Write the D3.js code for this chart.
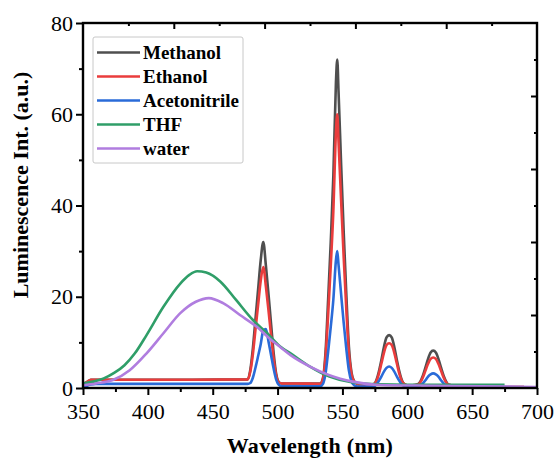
<!DOCTYPE html>
<html>
<head>
<meta charset="utf-8">
<script src="https://cdn.jsdelivr.net/npm/d3@7"></script>
<style>
  body { margin: 0; background: #fff; }
  svg text { font-family: "Liberation Serif", "Times New Roman", serif; fill: #000; }
</style>
</head>
<body>
<div id="container"></div>
<script>
// wavelength grid shared by the three sharp-line spectra (nm)
const waveSharp = [350, 353, 356, 360, 420,
  477, 479, 481, 483, 485, 487, 489, 491, 493, 495, 497, 499, 501, 503,
  515,
  533, 535, 537, 539, 541, 543, 545, 546, 547, 549, 551, 553, 555, 557, 559, 562,
  568,
  574, 576, 578, 580, 582, 584, 586, 588, 590, 592, 594, 596, 598, 600,
  604,
  608, 610, 612, 614, 616, 618, 620, 622, 624, 626, 628, 630, 632,
  640, 690];

const methanol = [0.9, 1.3, 1.8, 1.8, 1.8,
  1.9, 4.0, 8.8, 15.2, 21.6, 28, 32, 26.8, 20.6, 14, 7.6, 3.0, 1.3, 1.0,
  1.0,
  1.0, 2.2, 8, 19.5, 32, 46.5, 67, 72, 65, 49, 34, 20.5, 9, 3.4, 1.5, 0.8,
  0.6,
  0.8, 1.6, 3.5, 6.1, 9, 11.1, 11.6, 11.1, 9, 6.1, 3.5, 1.6, 0.8, 0.6,
  0.6,
  0.8, 1.4, 2.7, 4.5, 6.4, 7.8, 8.2, 7.8, 6.4, 4.5, 2.7, 1.4, 0.7,
  0.4, 0.2];

const ethanol = [0.9, 1.3, 1.8, 1.8, 1.8,
  1.9, 3.6, 7.5, 12.9, 18.2, 23.5, 26.5, 22.2, 17, 11.5, 6.3, 2.6, 1.2, 1.0,
  1.0,
  0.9, 2, 6.8, 16.2, 26.8, 38.8, 56, 60, 54, 41, 28.5, 17.2, 7.7, 3, 1.4, 0.8,
  0.6,
  0.8, 1.4, 3.0, 5.3, 7.7, 9.4, 9.8, 9.4, 7.7, 5.3, 3.0, 1.4, 0.8, 0.6,
  0.6,
  0.7, 1.2, 2.3, 3.8, 5.3, 6.4, 6.7, 6.4, 5.3, 3.8, 2.3, 1.2, 0.7,
  0.4, 0.2];

const acetonitrile = [0.1, 0.5, 0.8, 0.9, 0.9,
  0.9, 1.1, 2.3, 4.5, 7, 9.6, 12.6, 12.9, 10.2, 7.2, 4.2, 1.8, 0.7, 0.4,
  0.4,
  0.4, 0.9, 3.2, 8, 13.4, 19.4, 28, 30, 27, 20.5, 14.2, 8.6, 3.8, 1.4, 0.6, 0.3,
  0.3,
  0.4, 0.7, 1.5, 2.5, 3.6, 4.4, 4.7, 4.4, 3.6, 2.5, 1.5, 0.7, 0.4, 0.3,
  0.3,
  0.3, 0.5, 1.0, 1.7, 2.5, 3.0, 3.2, 3.0, 2.5, 1.7, 1.0, 0.5, 0.3,
  0.2, 0.1];

// broad-band spectra
const waveTHF = [350, 358, 366, 374, 382, 390, 399, 412, 425, 432, 438, 445, 456, 468, 481, 492, 502, 510, 525, 540, 558, 579, 600, 675];
const thf = [1.0, 1.4, 2.1, 3.3, 5.0, 7.6, 11.6, 17.8, 22.9, 24.8, 25.6, 25.3, 23.3, 19.3, 14.9, 12, 9.1, 7.6, 4.7, 2.5, 1.2, 0.8, 0.7, 0.7];

const waveWater = [350, 360, 373, 386, 399, 412, 425, 437, 447, 458, 471, 484, 494, 502, 510, 525, 540, 558, 579, 620, 680, 700];
const water = [0.6, 1.0, 1.75, 3.9, 7.6, 12, 16.4, 18.9, 19.7, 18.6, 16, 13.4, 10.8, 9.0, 7.2, 4.7, 2.8, 1.4, 0.66, 0.5, 0.3, 0.2];

const seriesNames = ["Methanol", "Ethanol", "Acetonitrile", "THF", "water"];
const seriesColors = ["#4f4f4f", "#ea3c3c", "#2a6bd8", "#2f9e68", "#b07ddf"];

const xTicks = [350, 400, 450, 500, 550, 600, 650, 700];
const xMinor = [375, 425, 475, 525, 575, 625, 675];
const yTicks = [0, 20, 40, 60, 80];
const yMinor = [10, 30, 50, 70];

const margin = { top: 23, right: 19, bottom: 71, left: 83 };
const width = 556 - margin.left - margin.right;
const height = 459 - margin.top - margin.bottom;

const svg = d3.select("#container")
  .append("svg")
  .attr("width", width + margin.left + margin.right)
  .attr("height", height + margin.top + margin.bottom);

const g = svg.append("g")
  .attr("transform", `translate(${margin.left},${margin.top})`);

const xScale = d3.scaleLinear().domain([350, 700]).range([0, width]);
const yScale = d3.scaleLinear().domain([0, 80]).range([height, 0]);

// the top/right frame carries its own evenly spaced ticks
const frameX = d3.scaleLinear().domain([0, 10]).range([0, width]);
const frameY = d3.scaleLinear().domain([0, 10]).range([0, height]);

const series = [
  { name: seriesNames[0], x: waveSharp, y: methanol },
  { name: seriesNames[1], x: waveSharp, y: ethanol },
  { name: seriesNames[2], x: waveSharp, y: acetonitrile },
  { name: seriesNames[3], x: waveTHF, y: thf },
  { name: seriesNames[4], x: waveWater, y: water }
];

const line = d3.line()
  .x(d => xScale(d[0]))
  .y(d => yScale(d[1]))
  .curve(d3.curveMonotoneX);

g.selectAll(".spectrum")
  .data(series)
  .enter()
  .append("path")
  .attr("class", "spectrum")
  .attr("fill", "none")
  .attr("stroke", (d, i) => seriesColors[i])
  .attr("stroke-width", 2.6)
  .attr("stroke-linejoin", "round")
  .attr("d", d => line(d.x.map((w, i) => [w, d.y[i]])));

// axes
function styleAxis(sel) {
  sel.select(".domain").remove();
  sel.selectAll(".tick line").attr("stroke", "#000").attr("stroke-width", 2);
}

g.append("g")
  .attr("transform", `translate(0,${height})`)
  .call(d3.axisBottom(xScale).tickValues(xMinor).tickSize(4).tickFormat(""))
  .call(styleAxis);

const xAxis = g.append("g")
  .attr("transform", `translate(0,${height})`)
  .call(d3.axisBottom(xScale).tickValues(xTicks).tickSize(7).tickPadding(8))
  .call(styleAxis);
xAxis.selectAll("text").attr("font-size", 22);

g.append("g")
  .call(d3.axisLeft(yScale).tickValues(yMinor).tickSize(4).tickFormat(""))
  .call(styleAxis);

const yAxis = g.append("g")
  .call(d3.axisLeft(yScale).tickValues(yTicks).tickSize(7).tickPadding(3))
  .call(styleAxis);
yAxis.selectAll("text").attr("font-size", 22);

g.append("g")
  .call(d3.axisTop(frameX).tickValues([2, 4, 6, 8]).tickSize(-6).tickFormat(""))
  .call(styleAxis);
g.append("g")
  .call(d3.axisTop(frameX).tickValues([1, 3, 5, 7, 9]).tickSize(-3).tickFormat(""))
  .call(styleAxis);
g.append("g")
  .attr("transform", `translate(${width},0)`)
  .call(d3.axisRight(frameY).tickValues([2, 4, 6, 8]).tickSize(-6).tickFormat(""))
  .call(styleAxis);
g.append("g")
  .attr("transform", `translate(${width},0)`)
  .call(d3.axisRight(frameY).tickValues([1, 3, 5, 7, 9]).tickSize(-3).tickFormat(""))
  .call(styleAxis);

g.append("rect")
  .attr("width", width)
  .attr("height", height)
  .attr("fill", "none")
  .attr("stroke", "#000")
  .attr("stroke-width", 2.4);

// axis titles
svg.append("text")
  .attr("x", margin.left + width / 2)
  .attr("y", 453)
  .attr("text-anchor", "middle")
  .attr("font-size", 22)
  .attr("font-weight", "bold")
  .attr("letter-spacing", 0.3)
  .text("Wavelength (nm)");

svg.append("text")
  .attr("transform", "translate(28,185) rotate(-90)")
  .attr("text-anchor", "middle")
  .attr("font-size", 22)
  .attr("font-weight", "bold")
  .text("Luminescence Int. (a.u.)");

// legend
const legend = svg.append("g").attr("transform", "translate(93,37)");
legend.append("rect")
  .attr("width", 150)
  .attr("height", 126)
  .attr("rx", 2)
  .attr("fill", "#fff")
  .attr("stroke", "#c8c8c8")
  .attr("stroke-width", 1);

const rows = legend.selectAll(".row")
  .data(series)
  .enter()
  .append("g")
  .attr("class", "row")
  .attr("transform", (d, i) => `translate(0,${15.5 + i * 24})`);

rows.append("line")
  .attr("x1", 4).attr("x2", 47)
  .attr("stroke", (d, i) => seriesColors[i])
  .attr("stroke-width", 2.6);

rows.append("text")
  .attr("x", 50)
  .attr("y", 6)
  .attr("font-size", 19)
  .attr("font-weight", "bold")
  .text(d => d.name);
</script>
</body>
</html>
